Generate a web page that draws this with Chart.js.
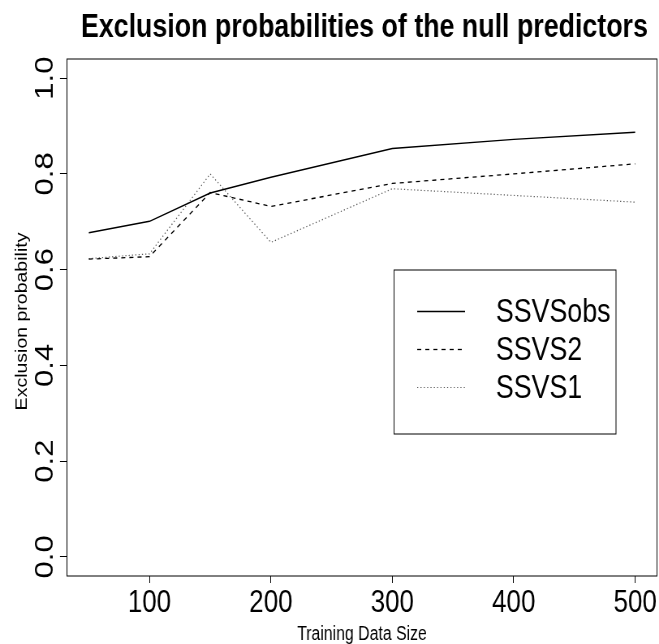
<!DOCTYPE html>
<html>
<head>
<meta charset="utf-8">
<script src="https://cdn.jsdelivr.net/npm/chart.js@4.4.1/dist/chart.umd.min.js"></script>
<style>
  html, body { margin: 0; padding: 0; background: #fff; overflow: hidden; }
</style>
</head>
<body>
<!-- drawn wide, then squeezed horizontally like the original R device -->
<canvas id="exclusion_chart" width="812" height="644" style="display:block;width:659px;height:644px"></canvas>
<script>
// training set sizes
var sizes = [50, 100, 150, 200, 300, 400, 500];

// exclusion probability per method
var ssvsObs = [0.677, 0.701, 0.760, 0.793, 0.853, 0.872, 0.887];
var ssvs2   = [0.622, 0.627, 0.761, 0.732, 0.780, 0.800, 0.821];
var ssvs1   = [0.623, 0.633, 0.800, 0.657, 0.769, 0.755, 0.741];

var xTicks = [100, 200, 300, 400, 500];
var yTicks = [0.0, 0.2, 0.4, 0.6, 0.8, 1.0];

var titleText = "Exclusion probabilities of the null predictors";
var xLabel = "Training Data Size";
var yLabel = "Exclusion probability";

function toPoints(values){
    return values.map(function(v, i){ return {x: sizes[i], y: v}; });
}

function series(label, values, dash, color, width){
    return {
        label: label,
        data: toPoints(values),
        borderColor: color,
        borderWidth: width,
        borderDash: dash,
        pointRadius: 0,
        fill: false,
        tension: 0
    };
}

// R style decorations: box, title, axis labels, rotated y ticks, legend
var rDecor = {
    id: 'rDecor',
    afterDraw: function(chart){
        var ctx = chart.ctx;
        var a = chart.chartArea;
        var ys = chart.scales.y;
        ctx.save();

        // plot box
        ctx.strokeStyle = '#000';
        ctx.lineWidth = 1;
        ctx.strokeRect(a.left, a.top, a.right - a.left, a.bottom - a.top);

        // main title
        ctx.fillStyle = '#000';
        ctx.font = 'bold 33px "Liberation Sans", Arial, sans-serif';
        ctx.textAlign = 'center';
        ctx.textBaseline = 'alphabetic';
        ctx.fillText(titleText, (a.left + a.right) / 2 + 3, 37);

        // x axis label
        ctx.font = '19.5px "Liberation Sans", Arial, sans-serif';
        ctx.fillText(xLabel, (a.left + a.right) / 2, 640);

        // y axis label, reading upwards
        ctx.save();
        ctx.translate(33, (a.top + a.bottom) / 2 + 4);
        ctx.rotate(-Math.PI / 2);
        ctx.fillText(yLabel, 0, 0);
        ctx.restore();

        // y tick labels, rotated like las = 0
        ctx.font = '31px "Liberation Sans", Arial, sans-serif';
        yTicks.forEach(function(v){
            ctx.save();
            ctx.translate(65, ys.getPixelForValue(v));
            ctx.rotate(-Math.PI / 2);
            ctx.fillText(v.toFixed(1), 0, 0);
            ctx.restore();
        });

        // legend
        var box = {left: 485.5, top: 270, right: 759, bottom: 434};
        ctx.lineWidth = 1;
        ctx.setLineDash([]);
        ctx.strokeStyle = '#000';
        ctx.strokeRect(box.left, box.top, box.right - box.left, box.bottom - box.top);
        var rows = [311.5, 349.5, 387.5];
        ctx.font = '33px "Liberation Sans", Arial, sans-serif';
        ctx.textAlign = 'left';
        ctx.textBaseline = 'middle';
        chart.data.datasets.forEach(function(ds, i){
            ctx.beginPath();
            ctx.strokeStyle = ds.borderColor;
            ctx.lineWidth = ds.borderWidth;
            ctx.setLineDash(ds.borderDash);
            ctx.moveTo(514, rows[i]);
            ctx.lineTo(573, rows[i]);
            ctx.stroke();
            ctx.fillStyle = '#000';
            ctx.fillText(ds.label, 611, rows[i] + 1);
        });
        ctx.restore();
    }
};

var ctx = document.getElementById("exclusion_chart").getContext("2d");

var myChart = new Chart(ctx, {
    type: 'line',
    data: {
        datasets: [
            series('SSVSobs', ssvsObs, [], '#000', 1.4),
            series('SSVS2', ssvs2, [5, 5], '#000', 1.3),
            series('SSVS1', ssvs1, [1.3, 2.8], '#555', 1.2)
        ]
    },
    options: {
        responsive: false,
        animation: false,
        devicePixelRatio: 1,
        layout: { padding: { top: 59, right: 2.5, left: 0, bottom: 0 } },
        plugins: {
            legend: { display: false },
            title: { display: false },
            tooltip: { enabled: false }
        },
        scales: {
            x: {
                type: 'linear',
                min: 32,
                max: 518,
                afterBuildTicks: function(scale){
                    scale.ticks = xTicks.map(function(v){ return {value: v}; });
                },
                afterFit: function(scale){ scale.height = 68; },
                grid: { drawOnChartArea: false, color: '#000', tickLength: 7 },
                border: { display: false },
                ticks: {
                    color: '#000',
                    padding: 1,
                    maxRotation: 0,
                    autoSkip: false,
                    font: { family: '"Liberation Sans", Arial, sans-serif', size: 32 }
                }
            },
            y: {
                min: -0.04,
                max: 1.04,
                afterBuildTicks: function(scale){
                    scale.ticks = yTicks.map(function(v){ return {value: v}; });
                },
                afterFit: function(scale){ scale.width = 82.5; },
                grid: { drawOnChartArea: false, color: '#000', tickLength: 8.6 },
                border: { display: false },
                ticks: { display: false }
            }
        }
    },
    plugins: [rDecor]
});
</script>
</body>
</html>
